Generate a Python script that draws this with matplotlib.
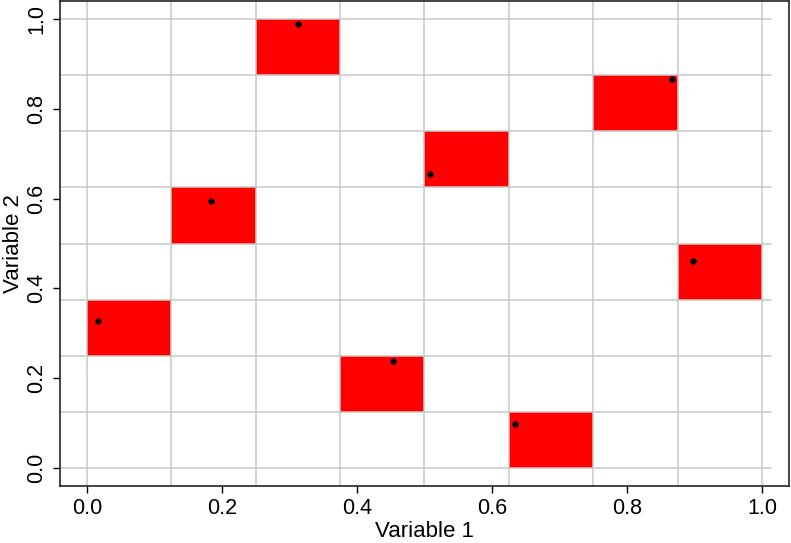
import matplotlib
matplotlib.use("Agg")
import matplotlib.pyplot as plt
from matplotlib.patches import Rectangle
import numpy as np

# latin hypercube sample, 8 strata per variable
n_strata = 8
x_bin = [0, 1, 2, 3, 4, 5, 6, 7]
y_bin = [2, 4, 7, 1, 5, 0, 6, 3]
x_pts = [0.016, 0.184, 0.313, 0.454, 0.508, 0.634, 0.866, 0.898]
y_pts = [0.328, 0.595, 0.989, 0.238, 0.655, 0.097, 0.867, 0.460]

plt.rcParams['font.family'] = ['Liberation Sans', 'DejaVu Sans']

fig = plt.figure(figsize=(7.91, 5.43), dpi=100)
ax = fig.add_axes([60 / 791, 57 / 543, 729 / 791, 485 / 543])

w = 1.0 / n_strata
for i, j in zip(x_bin, y_bin):
    ax.add_patch(Rectangle((i * w, j * w), w, w, facecolor='red',
                           edgecolor='none', zorder=1))

# grid on the strata boundaries
edges = np.linspace(0, 1, n_strata + 1)
for e in edges:
    ax.axvline(e, color='#c8c8c8', lw=1.1, zorder=2)
    ax.plot([-0.04, 1.013], [e, e], color='#c8c8c8', lw=1.1, zorder=2)

ax.plot(x_pts, y_pts, 'o', color='black', markersize=3.5, zorder=3)

ax.set_xlim(-0.04, 1.04)
ax.set_ylim(-0.04, 1.04)
ticks = [0.0, 0.2, 0.4, 0.6, 0.8, 1.0]
ax.set_xticks(ticks)
ax.set_yticks(ticks)
ax.set_xticklabels(['0.0', '0.2', '0.4', '0.6', '0.8', '1.0'])
ax.set_yticklabels(['0.0', '0.2', '0.4', '0.6', '0.8', '1.0'],
                   rotation=90, va='center')
ax.tick_params(direction='out', length=5, width=1, labelsize=15.5, pad=4)

for s in ax.spines.values():
    s.set_linewidth(1.2)
    s.set_color('#222222')

ax.set_xlabel('Variable 1', fontsize=16, labelpad=1)
ax.set_ylabel('Variable 2', fontsize=16, labelpad=2)

fig.savefig('out.png', dpi=100)
